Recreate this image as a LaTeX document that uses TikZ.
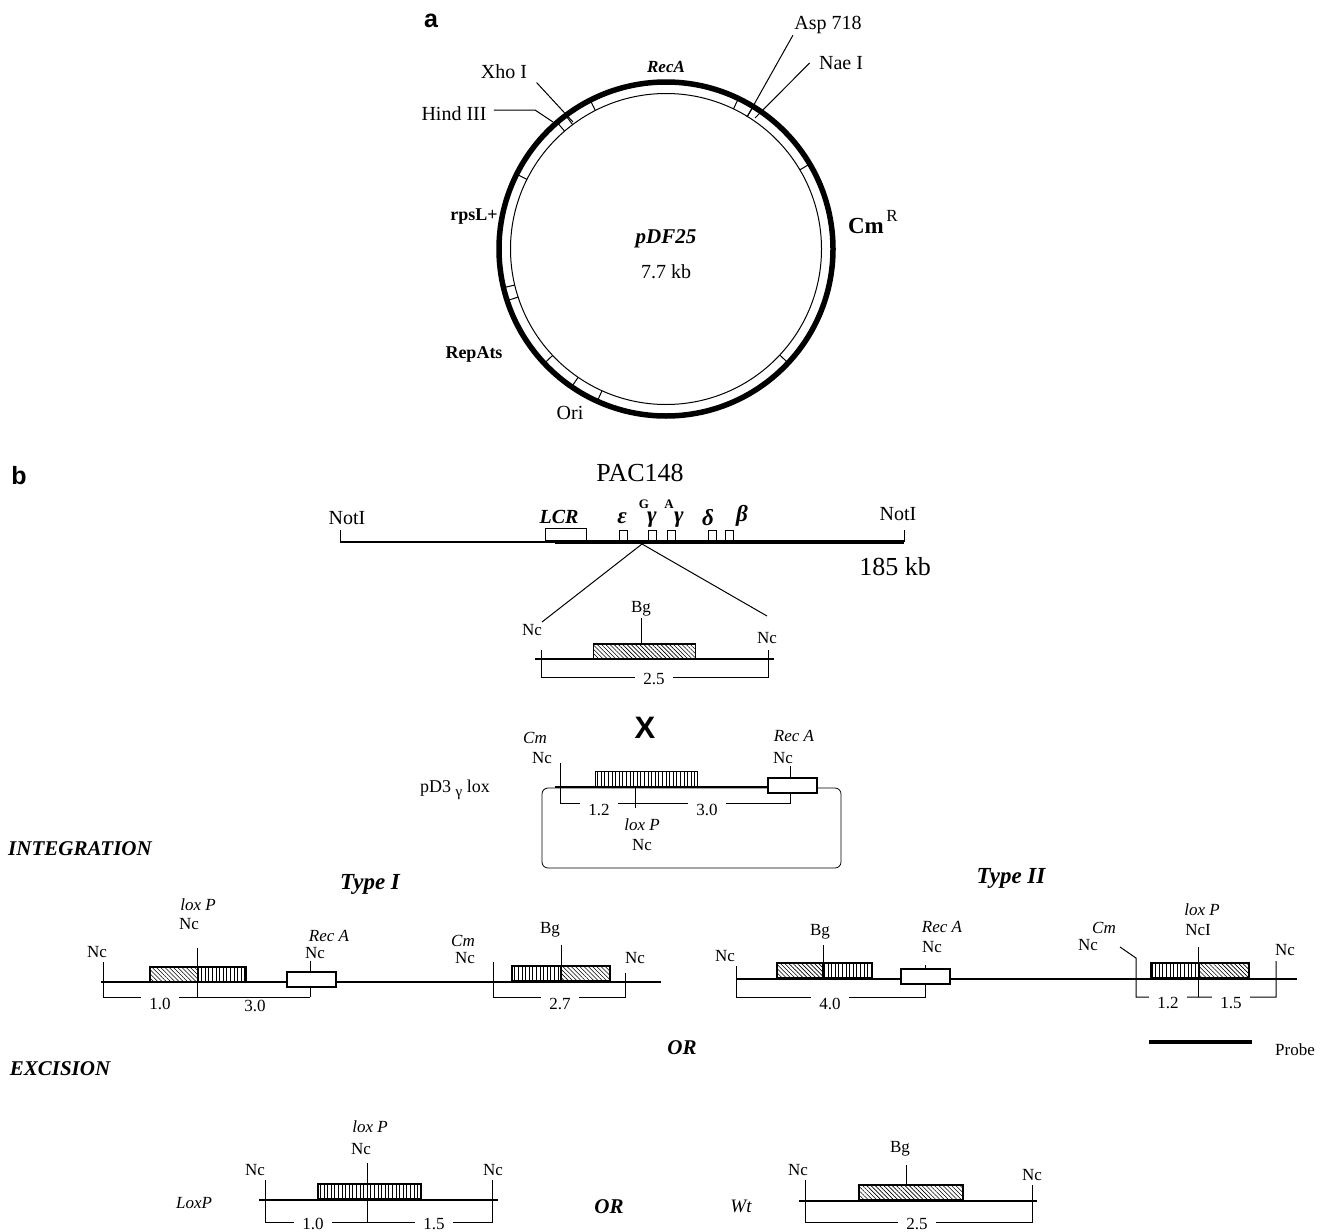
\documentclass[tikz,border=0pt]{standalone}
\usepackage{fontspec}
\setmainfont{Liberation Serif}
\newfontfamily\panelfont{Liberation Sans}
\usetikzlibrary{patterns.meta}
\newcommand{\fs}[1]{\fontsize{#1}{#1}\selectfont}

\begin{document}
\begin{tikzpicture}[
  x=1pt, y=-1pt, line width=1pt,
  site/.style={inner sep=1pt,font=\fs{17}},
  big/.style={inner sep=1pt,font=\fs{20}},
  ital/.style={inner sep=1pt,font=\fs{17}\itshape},
  boldlab/.style={inner sep=1pt,font=\fs{18}\bfseries},
  head/.style={inner sep=1pt,font=\fs{21}\bfseries\itshape},
  typelab/.style={inner sep=1pt,font=\fs{23}\bfseries\itshape},
  panel/.style={inner sep=1pt,font=\fs{25}\panelfont\bfseries},
  greek/.style={inner sep=0pt,font=\fs{23}\bfseries\itshape},
  dimlab/.style={anchor=north,fill=white,inner xsep=8pt,inner ysep=1.5pt,font=\fs{17}},
  dna/.style={line width=1.5pt},
  hatchbox/.style={draw,line width=1.6pt,inner sep=0pt,anchor=south west,minimum height=15pt,
    pattern={Lines[angle=-45,distance=3pt,line width=.6pt]}},
  stripebox/.style={draw,line width=1.6pt,inner sep=0pt,anchor=south west,minimum height=15pt,
    pattern={Lines[angle=90,distance=3.6pt,line width=.7pt]}},
  recbox/.style={draw,line width=1.6pt,fill=white,inner sep=0pt,anchor=south west,minimum width=49pt,minimum height=15pt},
  genebox/.style={draw,line width=.8pt,fill=white,inner sep=0pt,anchor=south west,minimum width=8pt,minimum height=10pt}
]
\useasboundingbox (0,0) rectangle (1329,1231);
% plasmid
\node[panel] (a) at (431,21) {a};
\coordinate (pc) at (666,249);
\draw[line width=5.5pt] (pc) circle (167pt);
\draw (pc) circle (155.5pt);
\foreach \a in {117,126.9,130.7,64.3,58.5,30.6,-43,245.7,235.6,223.2,198,193.4,153.4}
  \draw (pc) ++(\a:155.5pt) -- ++(\a:10pt);
\node[big] (asp) at (828,25) {Asp 718};
\node[big] (nae) at (841,63) {Nae I};
\node[big] (xho) at (504,72) {Xho I};
\node[big] (hind) at (454,114) {Hind III};
\node[big] (ori) at (570,413) {Ori};
\node[boldlab,font=\fs{17}\bfseries\itshape] (reca) at (666,67) {RecA};
\node[boldlab] (rpsl) at (474,217) {rpsL+};
\node[boldlab] (repats) at (474,354) {RepAts};
\node[inner sep=1pt,font=\fs{23}\bfseries] (cm) at (866,226) {Cm};
\node[site] (cmr) at (892,216) {R};
\node[head] (pdf) at (666,239) {pDF25};
\node[big] (size) at (666,272) {7.7 kb};
\coordinate (aspS) at (747,117);
\coordinate (naeS) at (755,118);
\coordinate (xhoS) at (573,122);
\coordinate (hindK) at (535,110);
\coordinate (hindS) at (553,122);
\draw (asp.south west) -- (aspS);
\draw (nae.west) ++(-8,0) -- (naeS);
\draw (xho.south east) ++(8,2) -- (xhoS);
\draw (hind.east) ++(6,-4) -- (hindK) -- (hindS);
% PAC clone
\node[panel] (b) at (19,476) {b};
\node[inner sep=1pt,font=\fs{26}] (pac) at (640,473) {PAC148};
\coordinate (pl) at (340,542);
\coordinate (pm) at (555,542);
\coordinate (pr) at (904,542);
\draw[line width=2.5pt] (pl) -- (pm);
\draw[line width=4pt] (pm) -- (pr);
\draw ([yshift=12pt]pl) -- (pl);
\draw ([yshift=12pt]pr) -- (pr);
\node[big] (not1) at (347,518) {NotI};
\node[big] (not2) at (898,514) {NotI};
\node[inner sep=1pt,font=\fs{26}] (kb) at (895,567) {185 kb};
\node[boldlab,font=\fs{20}\bfseries\itshape] (lcr) at (559,517) {LCR};
\node[genebox,minimum width=41pt,minimum height=12pt] (lcrb) at (545,541) {};
\node[genebox] (g1) at (618.5,541) {};
\node[genebox] (g2) at (648,541) {};
\node[genebox] (g3) at (667,541) {};
\node[genebox] (g4) at (707.5,541) {};
\node[genebox] (g5) at (725,541) {};
\node[greek] (eps) at (622,518) {ε};
\node[inner sep=0pt,font=\fs{13}\bfseries] (gg) at (644,504) {G};
\node[greek] (gam1) at (652,520) {γ};
\node[inner sep=0pt,font=\fs{13}\bfseries] (ga) at (669,504) {A};
\node[greek] (gam2) at (679,520) {γ};
\node[greek] (del) at (708,518) {δ};
\node[greek] (bet) at (742,516) {β};
% insert
\coordinate (apex) at (642,544);
\coordinate (zl) at (542,622);
\coordinate (zr) at (767,616);
\draw (zl) -- (apex) -- (zr);
\coordinate (il) at (541,650);
\coordinate (ir) at (768,650);
\coordinate (idl) at (541,677);
\coordinate (idr) at (768,677);
\draw[dna] (535,659) -- (774,659);
\node[hatchbox,minimum width=102pt] (ins) at (593,659) {};
\node[site] (incl) at (532,630) {Nc};
\node[site] (incr) at (767,638) {Nc};
\node[site] (ibg) at (641,609) {Bg};
\draw (ibg.south) -- (ibg.south |- ins.north);
\draw (il) -- (idl) -- (idr) -- (ir);
\node[dimlab] (i25) at (654,671) {2.5};
\node[inner sep=0pt,font=\fs{31}\panelfont\bfseries] (cross) at (645,728) {X};
% targeting vector
\draw[rounded corners=6pt,line width=.8pt] (542,788) rectangle (841,868);
\coordinate (vt) at (560,763);
\coordinate (vr) at (790,803);
\draw[dna] (555,787) -- (767,787);
\node[stripebox,minimum width=102pt] (vbox) at (595,787) {};
\node[recbox] (vrec) at (767,794) {};
\node[site,font=\fs{18}] (vpd) at (455,790) {pD3 \raisebox{-4pt}{\fs{15}γ} lox};
\node[ital] (vcm) at (535,738) {Cm};
\node[site] (vnc) at (542,758) {Nc};
\node[ital] (vra) at (794,736) {Rec A};
\node[site] (vnc2) at (783,758) {Nc};
\node[ital] (vlox) at (642,825) {lox P};
\node[site] (vnc3) at (642,845) {Nc};
\draw (vt) |- (vr) -- (vr |- vrec.south);
\draw (vrec.north -| vr) -- ++(0,-11);
\draw (635,787) -- (635,808);
\node[dimlab] (v12) at (599,802) {1.2};
\node[dimlab] (v30) at (707,802) {3.0};
\node[head] (integ) at (80,849) {INTEGRATION};
% type I
\node[typelab] (t1) at (370,884) {Type I};
\coordinate (ta) at (103,962);
\coordinate (tb) at (310,997);
\coordinate (tc) at (197,948);
\coordinate (td) at (493,962);
\coordinate (te) at (625,973);
\draw[dna] (101,982) -- (661,982);
\node[hatchbox,minimum width=48pt] (t1a) at (149,983) {};
\node[stripebox,minimum width=48pt] (t1b) at (197,983) {};
\node[recbox] (t1r) at (286,988) {};
\node[stripebox,minimum width=49pt] (t1c) at (511,982) {};
\node[hatchbox,minimum width=49pt] (t1d) at (560,982) {};
\draw (ta) |- (tb);
\draw (t1r.south -| tb) -- (tb);
\draw (t1r.north -| tb) -- ++(0,-10);
\draw (tc) -- (tc |- tb);
\draw (td) |- (te |- tb) -- (te);
\draw (t1c.north east) -- ++(0,-20);
\node[site] (t1n1) at (97,952) {Nc};
\node[ital] (t1lox) at (198,905) {lox P};
\node[site] (t1n2) at (189,924) {Nc};
\node[ital] (t1ra) at (329,936) {Rec A};
\node[site] (t1n3) at (315,953) {Nc};
\node[ital] (t1cm) at (463,941) {Cm};
\node[site] (t1n4) at (465,958) {Nc};
\node[site] (t1bg) at (550,930) {Bg};
\node[site] (t1n5) at (635,958) {Nc};
\node[dimlab] (t110) at (160,996) {1.0};
\node[dimlab] (t130) at (255,998) {3.0};
\node[dimlab] (t127) at (560,996) {2.7};
% type II
\node[typelab] (t2) at (1011,878) {Type II};
\coordinate (ua) at (736,966);
\coordinate (ub) at (925,997);
\coordinate (uc) at (1120,947);
\coordinate (ud) at (1136,958);
\coordinate (ue) at (1198,947);
\coordinate (uf) at (1276,961);
\draw[dna] (736,979) -- (1297,979);
\node[hatchbox,minimum width=46pt] (t2a) at (776,979) {};
\node[stripebox,minimum width=49pt] (t2b) at (822,979) {};
\node[recbox] (t2r) at (900,985) {};
\node[stripebox,minimum width=48pt] (t2c) at (1150,979) {};
\node[hatchbox,minimum width=50pt] (t2d) at (1198,979) {};
\draw (ua) |- (ub) -- (ub |- t2r.south);
\draw (t2r.north -| ub) -- ++(0,-3);
\draw (t2a.north east) -- ++(0,-17);
\draw (uc) -- (ud) |- (uf |- ub) -- (uf);
\draw (ue) -- (ue |- t2d.north);
\draw (ue |- t2d.south) -- (ue |- ub);
\node[site] (t2n1) at (725,956) {Nc};
\node[site] (t2bg) at (820,932) {Bg};
\node[ital] (t2ra) at (942,927) {Rec A};
\node[site] (t2n2) at (932,947) {Nc};
\node[ital] (t2cm) at (1104,928) {Cm};
\node[site] (t2n3) at (1088,945) {Nc};
\node[ital] (t2lox) at (1202,910) {lox P};
\node[site] (t2n4) at (1198,930) {NcI};
\node[site] (t2n5) at (1285,950) {Nc};
\node[dimlab] (t240) at (830,996) {4.0};
\node[dimlab] (t212) at (1168,995) {1.2};
\node[dimlab] (t215) at (1231,995) {1.5};
\node[head] (or1) at (682,1048) {OR};
\node[site] (probe) at (1295,1050) {Probe};
\coordinate (pa) at (1149,1042);
\coordinate (pb) at (1252,1042);
\draw[line width=3.5pt] (pa) -- (pb);
\node[head] (exc) at (60,1069) {EXCISION};
% excision products
\coordinate (xa) at (265,1180);
\coordinate (xb) at (492,1180);
\coordinate (xc) at (367,1163);
\coordinate (xd) at (805,1180);
\coordinate (xe) at (1032,1185);
\coordinate (xf) at (906,1165);
\draw[dna] (259,1200) -- (498,1200);
\node[stripebox,minimum width=103pt] (lbox) at (317,1200) {};
\draw (xa) -- (265,1222) -- (492,1222) -- (xb);
\draw (xc) -- (367,1222);
\draw[dna] (799,1201) -- (1037,1201);
\node[hatchbox,minimum width=104pt] (wbox) at (858,1201) {};
\draw (xf) -- (xf |- wbox.north);
\draw (xd) -- (805,1222) -- (1032,1222) -- (xe);
\node[ital] (lxlox) at (370,1127) {lox P};
\node[site] (lxn1) at (361,1149) {Nc};
\node[site] (lxn2) at (255,1170) {Nc};
\node[site] (lxn3) at (493,1170) {Nc};
\node[ital] (lxp) at (194,1203) {LoxP};
\node[head] (or2) at (609,1207) {OR};
\node[ital,font=\fs{19}\itshape] (wt) at (741,1206) {Wt};
\node[site] (wn1) at (798,1170) {Nc};
\node[site] (wbg) at (900,1149) {Bg};
\node[site] (wn2) at (1032,1175) {Nc};
\node[dimlab] (lx10) at (313,1216) {1.0};
\node[dimlab] (lx15) at (434,1216) {1.5};
\node[dimlab] (w25) at (917,1216) {2.5};
\end{tikzpicture}
\end{document}
